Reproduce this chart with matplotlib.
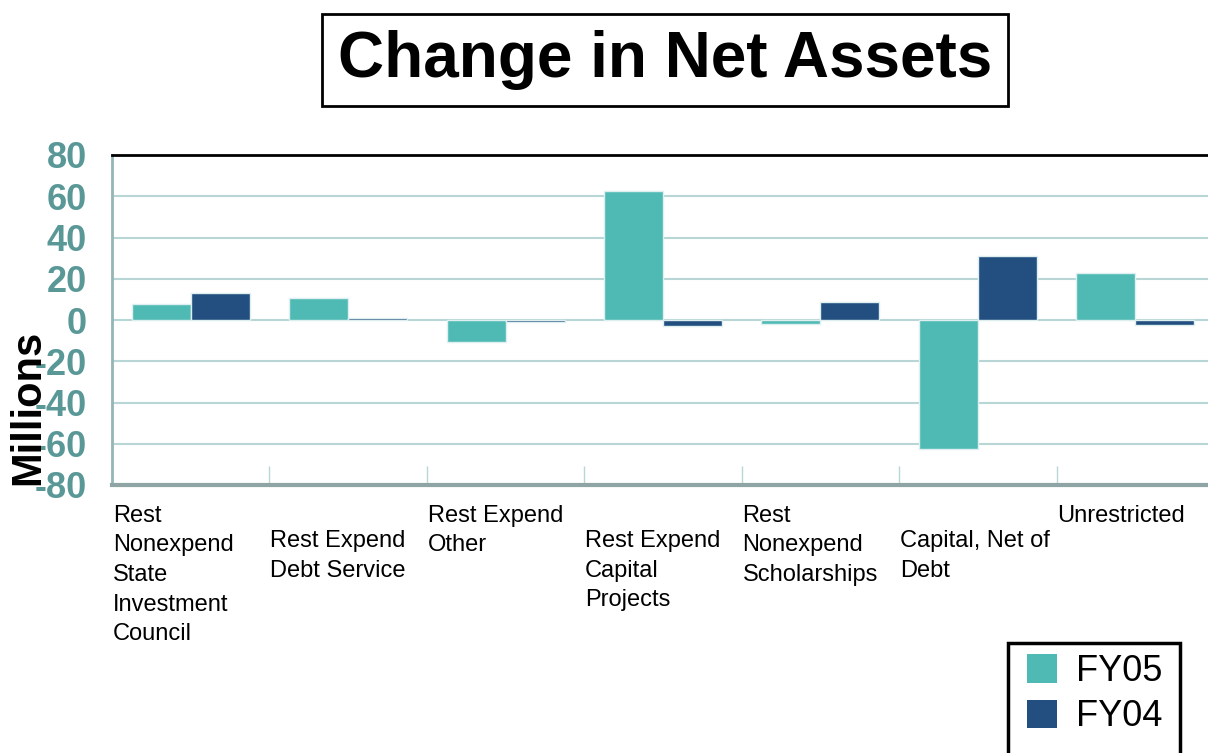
import matplotlib.pyplot as plt
import numpy as np
from matplotlib.transforms import blended_transform_factory
from matplotlib.patches import Patch, Rectangle

plt.rcParams['font.family'] = ['Liberation Sans', 'DejaVu Sans']

categories = [
    "Rest\nNonexpend\nState\nInvestment\nCouncil",
    "Rest Expend\nDebt Service",
    "Rest Expend\nOther",
    "Rest Expend\nCapital\nProjects",
    "Rest\nNonexpend\nScholarships",
    "Capital, Net of\nDebt",
    "Unrestricted",
]
fy05 = [7.8, 10.5, -10.9, 62.7, -1.8, -62.4, 22.9]
fy04 = [13.1, 0.8, -1.2, -2.9, 8.7, 30.8, -2.3]
yticks = [-80, -60, -40, -20, 0, 20, 40, 60, 80]

c05 = "#4fbab4"
c04 = "#234f80"
tick_col = "#5a9898"
grid_col = "#b9d6d6"

W, H = 1208, 753
fig = plt.figure(figsize=(W / 100, H / 100), dpi=100)
ax = fig.add_axes([112 / W, 1 - 485 / H, 1102 / W, 330 / H])

x = np.arange(len(categories)) + 0.5
w = 0.375
ax.bar(x - w / 2, fy05, w, color=c05, edgecolor="#dfeeee", linewidth=1, zorder=2)
ax.bar(x + w / 2, fy04, w, color=c04, edgecolor="#dfeeee", linewidth=1, zorder=2)

ax.set_xlim(0, len(categories))
ax.set_ylim(-80, 80)
ax.set_yticks(yticks)
ax.set_yticklabels([str(v) for v in yticks], fontsize=26, fontweight="bold", color=tick_col)
ax.tick_params(axis="y", length=0, pad=18)
for v in yticks[1:-1]:
    ax.axhline(v, color=grid_col, lw=1.5, zorder=1)

ax.set_xticks(np.arange(1, len(categories)))
ax.set_xticklabels([])
ax.tick_params(axis="x", direction="in", length=13.5, width=1, color=grid_col)

ax.spines["top"].set_color("black")
ax.spines["top"].set_linewidth(2)
ax.spines["right"].set_visible(False)
ax.spines["left"].set_color("#95b6b6")
ax.spines["left"].set_linewidth(2)
ax.spines["bottom"].set_color("#8fa5a5")
ax.spines["bottom"].set_linewidth(3)

trans = blended_transform_factory(ax.transData, ax.transAxes)
for i, lab in enumerate(categories):
    y = -0.06 if i % 2 == 0 else -0.136
    ax.text(i + 0.005, y, lab, transform=trans, ha="left", va="top",
            fontsize=17, linespacing=1.45)

fig.text(28 / W, 1 - 407 / H, "Millions", rotation=90, ha="center", va="center",
         fontsize=30, fontweight="bold", color="black")

fig.text(665 / W, 1 - 60 / H, "Change in Net Assets", ha="center", va="center",
         fontsize=46, fontweight="bold",
         bbox=dict(boxstyle="square,pad=0.25", facecolor="white", edgecolor="black", linewidth=2))

# legend frame runs off the bottom edge, as in the original slide
fig.patches.append(Rectangle((1008 / W, -0.05), 172 / W, 0.05 + (H - 643) / H,
                             transform=fig.transFigure, fill=False,
                             edgecolor="black", linewidth=2.5))
handles = [Patch(facecolor=c05, label="FY05"), Patch(facecolor=c04, label="FY04")]
fig.legend(handles=handles, loc="upper left", bbox_to_anchor=(1027 / W, 1 - 654 / H),
           fontsize=26, frameon=False, handlelength=0.82, handleheight=0.82,
           handletextpad=0.55, borderpad=0, labelspacing=0.28, borderaxespad=0)

fig.savefig("out.png", dpi=100)
